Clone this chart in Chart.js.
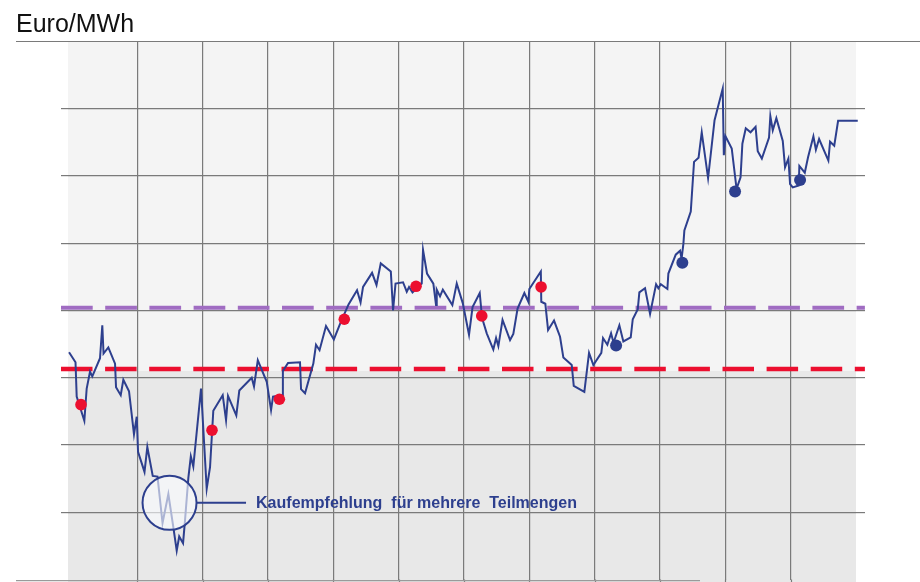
<!DOCTYPE html>
<html><head><meta charset="utf-8">
<script src="https://cdn.jsdelivr.net/npm/chart.js@4/dist/chart.umd.min.js"></script>
<style>html,body{margin:0;padding:0;background:#fff;}#wrap{width:920px;height:582px;}</style>
</head><body><div id="wrap"><canvas id="c" width="920" height="582"></canvas></div>
<script>
// ---- data (x = months from first grid line, y = Euro/MWh) ----
const months = [-1.045,-0.946,-0.928,-0.811,-0.775,-0.724,-0.689,-0.571,-0.536,-0.517,
-0.444,-0.341,-0.326,-0.254,-0.214,-0.127,-0.051,-0.009,0.011,0.110,
0.153,0.236,0.309,0.386,0.475,0.551,0.603,0.641,0.700,0.730,
0.781,0.819,0.857,0.975,1.062,1.113,1.163,1.307,1.358,1.388,
1.515,1.561,1.751,1.786,1.844,1.981,2.047,2.077,2.223,2.228,
2.307,2.490,2.506,2.567,2.694,2.735,2.789,2.888,3.008,3.103,
3.233,3.363,3.417,3.455,3.593,3.661,3.726,3.880,3.914,3.952,
4.067,4.124,4.159,4.212,4.353,4.373,4.434,4.531,4.572,4.583,
4.633,4.676,4.822,4.889,4.981,5.077,5.131,5.241,5.276,5.348,
5.449,5.491,5.526,5.590,5.705,5.755,5.820,5.924,5.985,6.000,
6.176,6.183,6.245,6.287,6.378,6.470,6.521,6.649,6.680,6.842,
6.914,6.980,7.102,7.128,7.194,7.251,7.289,7.378,7.439,7.552,
7.583,7.660,7.684,7.771,7.848,7.940,7.975,8.012,8.113,8.128,
8.241,8.307,8.330,8.358,8.373,8.471,8.521,8.590,8.639,8.736,
8.835,8.960,8.977,9.003,9.098,9.172,9.233,9.261,9.313,9.386,
9.463,9.496,9.559,9.669,9.689,9.726,9.781,9.879,9.914,9.965,
9.991,10.032,10.124,10.133,10.216,10.266,10.348,10.386,10.435,10.577,
10.603,10.667,10.726,11.027];
const prices = [53.8,52.3,47.2,43.6,48.4,50.9,50.2,52.9,57.8,53.6,
54.5,52.1,48.6,47.4,49.7,48.0,41.6,44.2,39.0,36.0,
39.7,35.4,35.3,28.4,32.7,27.8,24.3,26.4,25.4,28.8,
35.1,38.3,36.8,48.4,33.5,36.7,45.1,47.4,43.7,47.3,
44.4,48.1,50.0,48.7,52.6,49.4,45.2,47.2,47.4,51.0,
52.2,52.3,48.3,47.7,52.1,54.9,54.1,57.7,55.7,58.0,
60.9,63.0,61.2,63.5,65.6,63.8,67.0,65.8,60.0,64.0,
64.2,62.8,63.5,62.7,64.0,69.0,65.5,64.0,60.8,63.1,
62.1,63.1,60.8,64.0,61.1,56.4,60.5,62.6,58.9,56.6,
54.2,55.9,54.7,58.6,55.6,56.5,60.3,62.6,61.3,63.2,
65.8,61.3,61.0,57.1,58.5,56.1,53.0,51.9,48.8,47.9,
53.7,51.9,53.7,55.9,54.9,56.6,55.2,57.8,55.4,56.0,
58.7,60.2,62.7,63.3,59.5,63.9,63.3,63.9,63.2,65.5,
68.3,68.9,67.7,69.9,71.9,74.7,82.1,82.7,86.5,79.7,
88.3,93.0,83.1,85.9,84.1,78.1,79.8,84.8,87.1,86.5,
87.3,83.7,82.6,85.7,88.9,86.8,88.6,85.2,81.3,82.6,
78.8,78.3,78.6,81.5,80.5,82.8,85.9,83.9,85.5,82.3,
85.1,84.5,88.2,88.2];
const redBuyMonths = [-0.862,1.143,2.174,3.168,4.266,5.272,6.180];
const redBuyPrices = [46.0,42.2,46.8,58.7,63.6,59.2,63.5];
const blueBuyMonths = [7.328,8.342,9.149,10.144];
const blueBuyPrices = [54.8,67.1,77.7,79.4];
const upperLevel = 60.4;   // purple dashed
const lowerLevel = 51.3;   // red dashed
const levelSpan = [-1.168, 11.136];
const gridMonths = [0,1,2,3,4,5,6,7,8,9,10];
const titleText = 'Euro/MWh';
const noteText = 'Kaufempfehlung  für mehrere  Teilmengen';
const noteCircle = {x: 0.493, y: 31.4};
const noteLineEnd = 1.664, noteTextX = 1.817, noteTextY = 30.6;

const NAVY = '#2d3f8e', RED = '#ec0f2f', PURPLE = '#a06cc2', GRID = '#7a7a7a';
const pts = (xs, ys) => xs.map((v, i) => ({x: v, y: ys[i]}));

const deco = {
  id: 'deco',
  beforeDraw(chart) {
    const {ctx, chartArea: a, scales: {y}} = chart;
    ctx.save();
    ctx.fillStyle = '#fff'; ctx.fillRect(0, 0, chart.width, chart.height);
    const yr = y.getPixelForValue(lowerLevel) + 2;
    ctx.fillStyle = '#f4f4f4'; ctx.fillRect(a.left, a.top, a.right - a.left, yr - a.top);
    ctx.fillStyle = '#e8e8e8'; ctx.fillRect(a.left, yr, a.right - a.left, chart.height - yr);
    ctx.restore();
  },
  beforeDatasetsDraw(chart) {
    const {ctx, chartArea: a, scales: {x}} = chart;
    ctx.save();
    ctx.strokeStyle = GRID; ctx.lineWidth = 1.2;
    gridMonths.forEach(m => {
      const px = Math.round(x.getPixelForValue(m)) + 0.5;
      ctx.beginPath(); ctx.moveTo(px, a.bottom); ctx.lineTo(px, chart.height); ctx.stroke();
    });
    ctx.beginPath(); ctx.moveTo(16, a.top); ctx.lineTo(920, a.top); ctx.stroke();
    ctx.strokeStyle = '#9a9a9a';
    ctx.beginPath(); ctx.moveTo(16, a.bottom + 1.2); ctx.lineTo(700, a.bottom + 1.2); ctx.stroke();
    ctx.fillStyle = '#111';
    ctx.font = '25px "Liberation Sans", Arial, sans-serif';
    ctx.textBaseline = 'alphabetic';
    ctx.fillText(titleText, 16, 32);
    ctx.restore();
  },
  afterDatasetsDraw(chart) {
    const {ctx, scales: {x, y}} = chart;
    const cx = x.getPixelForValue(noteCircle.x), cy = y.getPixelForValue(noteCircle.y);
    const r = 27;
    ctx.save();
    ctx.beginPath(); ctx.arc(cx, cy, r, 0, Math.PI * 2);
    ctx.fillStyle = 'rgba(250,251,255,0.62)'; ctx.fill();
    ctx.strokeStyle = NAVY; ctx.lineWidth = 2; ctx.stroke();
    ctx.beginPath(); ctx.moveTo(cx + r, cy); ctx.lineTo(x.getPixelForValue(noteLineEnd), cy); ctx.stroke();
    ctx.fillStyle = NAVY;
    ctx.font = 'bold 17px "Liberation Sans", Arial, sans-serif';
    ctx.textBaseline = 'alphabetic';
    ctx.fillText(noteText, x.getPixelForValue(noteTextX), y.getPixelForValue(noteTextY), 321);
    ctx.restore();
  }
};

const hideEdge = c => (c.tick && (c.tick.value === 100 || c.tick.value === 20)) ? 'rgba(0,0,0,0)' : GRID;

new Chart(document.getElementById('c'), {
  type: 'scatter',
  data: {
    datasets: [
      {data: pts(redBuyMonths, redBuyPrices), backgroundColor: RED, borderWidth: 0, pointRadius: 5.8, order: 0},
      {data: pts(blueBuyMonths, blueBuyPrices), backgroundColor: NAVY, borderWidth: 0, pointRadius: 6, order: 1},
      {data: pts(months, prices), showLine: true, borderColor: NAVY, borderWidth: 2, pointRadius: 0, tension: 0, clip: false, order: 2},
      {data: pts(levelSpan, [upperLevel, upperLevel]), showLine: true, borderColor: PURPLE, borderWidth: 4, borderDash: [31.7, 12.5], pointRadius: 0, clip: false, order: 3},
      {data: pts(levelSpan, [lowerLevel, lowerLevel]), showLine: true, borderColor: RED, borderWidth: 4.5, borderDash: [31.5, 12.6], pointRadius: 0, clip: false, order: 4}
    ]
  },
  options: {
    responsive: false, animation: false, devicePixelRatio: 1,
    layout: {autoPadding: false, padding: {left: 61, right: 55, top: 41.5, bottom: 2.5}},
    plugins: {legend: {display: false}, tooltip: {enabled: false}, title: {display: false}},
    scales: {
      x: {
        type: 'linear', min: -1.061, max: 11.0,
        afterBuildTicks: ax => { ax.ticks = gridMonths.map(v => ({value: v})); },
        ticks: {display: false},
        grid: {color: GRID, lineWidth: 1.2, drawTicks: false},
        border: {display: false}
      },
      y: {
        type: 'linear', position: 'left', min: 20, max: 100,
        ticks: {display: false, stepSize: 10},
        grid: {color: hideEdge, lineWidth: 1.2, drawTicks: true, tickLength: 7},
        border: {display: false}
      },
      y2: {
        type: 'linear', position: 'right', min: 20, max: 100,
        ticks: {display: false, stepSize: 10},
        grid: {color: hideEdge, lineWidth: 1.2, drawTicks: true, tickLength: 9, drawOnChartArea: false},
        border: {display: false}
      }
    }
  },
  plugins: [deco]
});
</script>
</body></html>
